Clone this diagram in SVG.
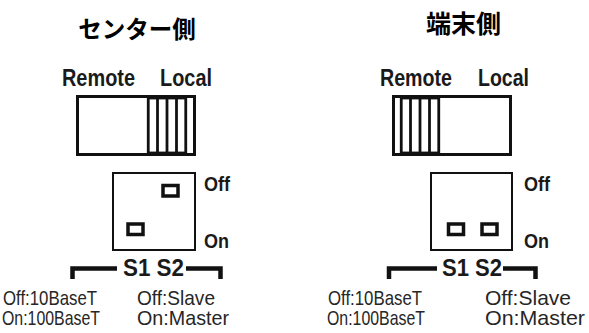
<svg xmlns="http://www.w3.org/2000/svg" width="589" height="333" viewBox="0 0 589 333">
<style>
.ttl{font-family:"Noto Sans CJK JP","Noto Sans CJK SC",sans-serif;font-weight:bold;fill:#000;text-anchor:middle}
.lbl{font-family:"Liberation Sans",Arial,sans-serif;font-weight:bold;fill:#1a1a1a}
.txt{font-family:"Liberation Sans",Arial,sans-serif;font-size:21px;fill:#262626}
.box{fill:#fff;stroke:#111;stroke-width:3}
.slider{fill:#fff;stroke:#111;stroke-width:2.8}
.rib{stroke:#111;stroke-width:2.8}
.dip{fill:#fff;stroke:#111;stroke-width:2}
.key{fill:#fff;stroke:#111;stroke-width:3.5}
.br{fill:none;stroke:#111;stroke-width:4.5}
</style>
<rect width="589" height="333" fill="#fff"/>

<g id="center-side">
  <text class="ttl" x="137" y="38" font-size="23.5">センター側</text>
  <g id="center-mode-switch">
    <text class="lbl" x="62" y="86" font-size="24" textLength="73" lengthAdjust="spacingAndGlyphs">Remote</text>
    <text class="lbl" x="160" y="86" font-size="24" textLength="52" lengthAdjust="spacingAndGlyphs">Local</text>
    <rect class="box" x="77.5" y="96.5" width="117" height="58"/>
    <rect class="slider" x="148.25" y="98" width="37.5" height="55"/>
    <line class="rib" x1="157.5" y1="98" x2="157.5" y2="153"/>
    <line class="rib" x1="167" y1="98" x2="167" y2="153"/>
    <line class="rib" x1="176.5" y1="98" x2="176.5" y2="153"/>
  </g>
  <g id="center-dip-switch">
    <rect class="dip" x="113" y="173" width="82" height="77"/>
    <rect class="key" x="163" y="185.5" width="15" height="10.5"/>
    <rect class="key" x="128" y="224" width="15" height="10.5"/>
    <text class="lbl" x="204" y="190.5" font-size="20" textLength="26" lengthAdjust="spacingAndGlyphs">Off</text>
    <text class="lbl" x="204" y="247.5" font-size="20" textLength="25" lengthAdjust="spacingAndGlyphs">On</text>
    <text class="lbl" x="123" y="275.5" font-size="24" textLength="61" lengthAdjust="spacingAndGlyphs">S1 S2</text>
  </g>
  <g id="center-legend">
    <text class="txt" x="3" y="305" textLength="94" lengthAdjust="spacingAndGlyphs">Off:10BaseT</text>
    <text class="txt" x="2" y="325" textLength="98" lengthAdjust="spacingAndGlyphs">On:100BaseT</text>
    <text class="txt" x="137" y="305" textLength="78" lengthAdjust="spacingAndGlyphs">Off:Slave</text>
    <text class="txt" x="137" y="325" textLength="92" lengthAdjust="spacingAndGlyphs">On:Master</text>
  </g>
</g>

<g id="terminal-side">
  <text class="ttl" x="463.5" y="33" font-size="25">端末側</text>
  <g id="terminal-mode-switch">
    <text class="lbl" x="380" y="86" font-size="24" textLength="72" lengthAdjust="spacingAndGlyphs">Remote</text>
    <text class="lbl" x="478" y="86" font-size="24" textLength="51" lengthAdjust="spacingAndGlyphs">Local</text>
    <rect class="box" x="393.5" y="96.5" width="117" height="58"/>
    <rect class="slider" x="401.25" y="98" width="37.5" height="55"/>
    <line class="rib" x1="410.5" y1="98" x2="410.5" y2="153"/>
    <line class="rib" x1="420" y1="98" x2="420" y2="153"/>
    <line class="rib" x1="429.5" y1="98" x2="429.5" y2="153"/>
  </g>
  <g id="terminal-dip-switch">
    <rect class="dip" x="431" y="173" width="81" height="77"/>
    <rect class="key" x="448.5" y="224" width="15" height="10.5"/>
    <rect class="key" x="482" y="224" width="15" height="10.5"/>
    <text class="lbl" x="524" y="190.5" font-size="20" textLength="26" lengthAdjust="spacingAndGlyphs">Off</text>
    <text class="lbl" x="524" y="247.5" font-size="20" textLength="25" lengthAdjust="spacingAndGlyphs">On</text>
    <text class="lbl" x="442" y="275.5" font-size="24" textLength="60" lengthAdjust="spacingAndGlyphs">S1 S2</text>
  </g>
  <g id="terminal-legend">
    <text class="txt" x="328" y="305" textLength="94" lengthAdjust="spacingAndGlyphs">Off:10BaseT</text>
    <text class="txt" x="327" y="325" textLength="98" lengthAdjust="spacingAndGlyphs">On:100BaseT</text>
    <text class="txt" x="485" y="305" textLength="86" lengthAdjust="spacingAndGlyphs">Off:Slave</text>
    <text class="txt" x="485" y="325" textLength="100" lengthAdjust="spacingAndGlyphs">On:Master</text>
  </g>
</g>

<g id="connectors">
  <path class="br" d="M117,268.5 H72.5 V279"/>
  <path class="br" d="M186,268.5 H220.5 V279"/>
  <path class="br" d="M437,268.5 H389 V279"/>
  <path class="br" d="M503,268.5 H535.5 V279"/>
</g>
</svg>
